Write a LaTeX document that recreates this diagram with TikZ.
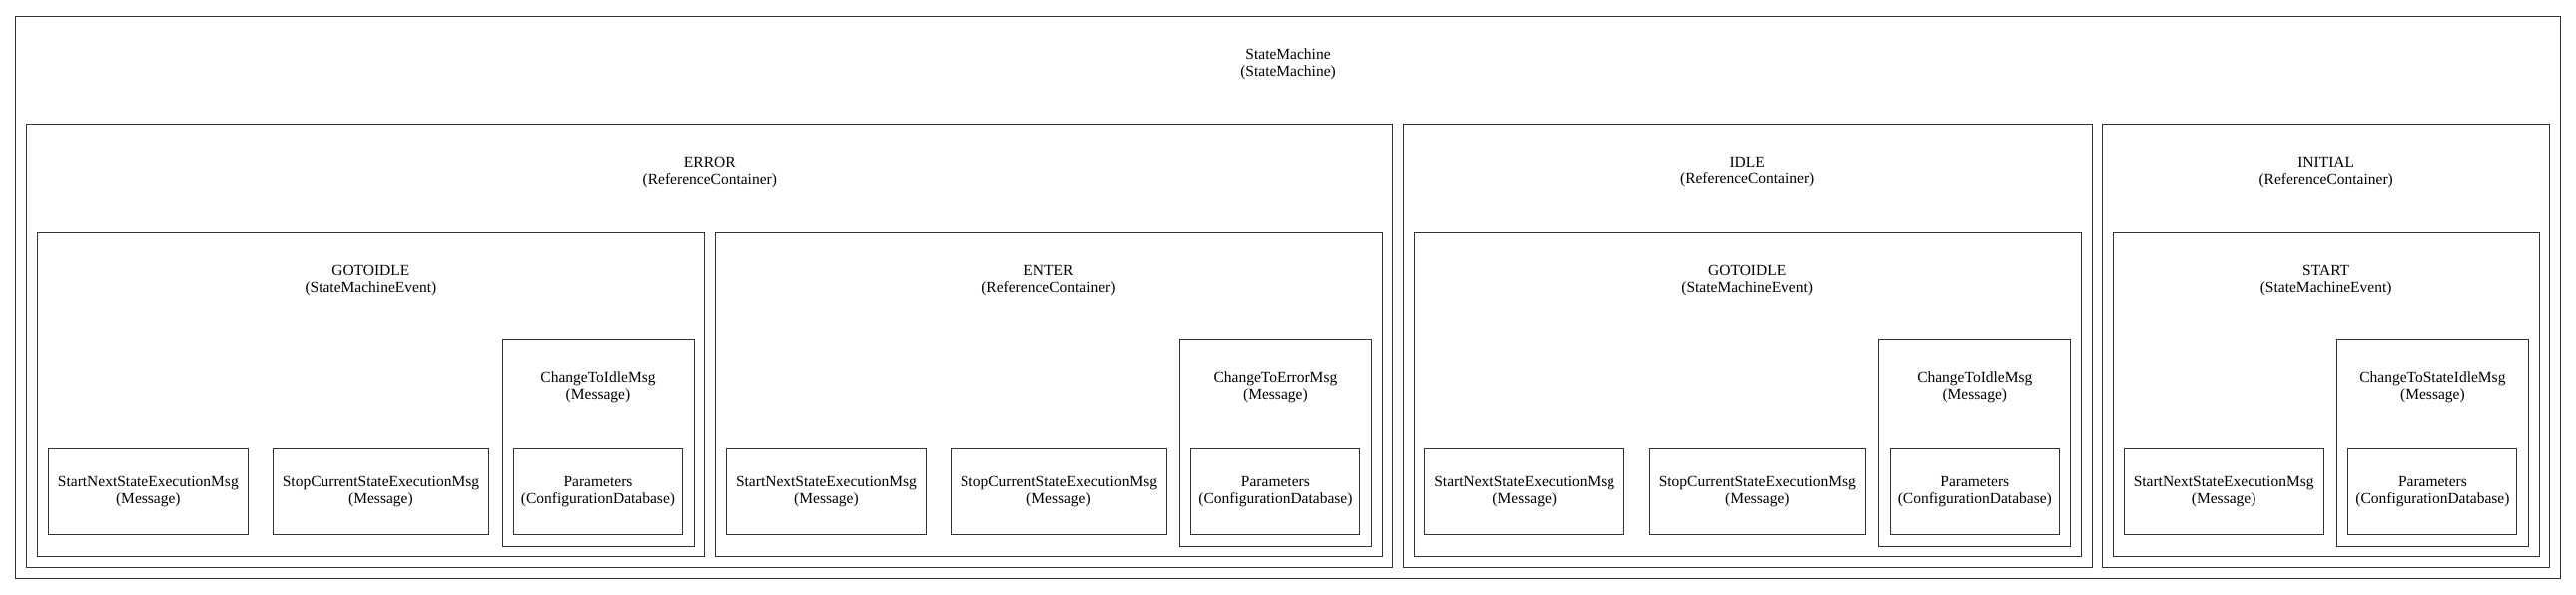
\documentclass[tikz,border=0pt]{standalone}
\usepackage{fontspec}
\setmainfont{Liberation Serif}
\usetikzlibrary{positioning}

\begin{document}
\begin{tikzpicture}[x=1pt, y=-1pt,
    box/.style={draw=black!80, line width=1pt, rectangle, anchor=north west, inner sep=0pt},
    leaf/.style={box, align=center, minimum height=86.4pt, font=\fontsize{15.5}{16.7}\selectfont},
    lbl/.style={align=center, inner sep=0pt, font=\fontsize{15.5}{16.7}\selectfont}]
            \useasboundingbox (0,0) rectangle (2580,595);

            % Draw clusters
            \node[box, minimum width=2548.3pt, minimum height=563pt] (sm) at (15.4,16) {};
            \node[lbl] (smlbl) at ([yshift=-48.5pt]sm.north) {StateMachine\\(StateMachine)};

            \node[box, minimum width=1368pt, minimum height=444.3pt] (error) at (26.3,123.7) {};
            \node[lbl] (errorlbl) at ([yshift=-48.5pt]error.north) {ERROR\\(ReferenceContainer)};
            \node[box, minimum width=690pt, minimum height=444.3pt] (idle) at (1404.7,123.7) {};
            \node[lbl] (idlelbl) at ([yshift=-48.5pt]idle.north) {IDLE\\(ReferenceContainer)};
            \node[box, minimum width=448.1pt, minimum height=444.3pt] (initial) at (2105.1,123.7) {};
            \node[lbl] (initiallbl) at ([yshift=-48.5pt]initial.north) {INITIAL\\(ReferenceContainer)};

            \node[box, minimum width=668.1pt, minimum height=325.1pt] (errgoto) at (36.8,231.9) {};
            \node[lbl] (errgotolbl) at ([yshift=-48.5pt]errgoto.north) {GOTOIDLE\\(StateMachineEvent)};
            \node[box, minimum width=668pt, minimum height=325.1pt] (errenter) at (715.9,231.9) {};
            \node[lbl] (errenterlbl) at ([yshift=-48.5pt]errenter.north) {ENTER\\(ReferenceContainer)};
            \node[box, minimum width=668pt, minimum height=325.1pt] (idlegoto) at (1415.7,231.9) {};
            \node[lbl] (idlegotolbl) at ([yshift=-48.5pt]idlegoto.north) {GOTOIDLE\\(StateMachineEvent)};
            \node[box, minimum width=427.3pt, minimum height=325.1pt] (initstart) at (2115.5,231.9) {};
            \node[lbl] (initstartlbl) at ([yshift=-48.5pt]initstart.north) {START\\(StateMachineEvent)};

            \node[box, minimum width=192pt, minimum height=206.8pt] (errgotochg) at (502.5,339.7) {};
            \node[lbl] (errgotochglbl) at ([yshift=-48.5pt]errgotochg.north) {ChangeToIdleMsg\\(Message)};
            \node[box, minimum width=192pt, minimum height=206.8pt] (errenterchg) at (1180.9,339.7) {};
            \node[lbl] (errenterchglbl) at ([yshift=-48.5pt]errenterchg.north) {ChangeToErrorMsg\\(Message)};
            \node[box, minimum width=192pt, minimum height=206.8pt] (idlegotochg) at (1881.3,339.7) {};
            \node[lbl] (idlegotochglbl) at ([yshift=-48.5pt]idlegotochg.north) {ChangeToIdleMsg\\(Message)};
            \node[box, minimum width=192pt, minimum height=206.8pt] (initstartchg) at (2339.9,339.7) {};
            \node[lbl] (initstartchglbl) at ([yshift=-48.5pt]initstartchg.north) {ChangeToStateIdleMsg\\(Message)};

            % Draw leaves
            \node[leaf, minimum width=200.3pt] (errgotonext) at (47.7,448.6) {StartNextStateExecutionMsg\\(Message)};
            \node[leaf, minimum width=216.7pt] (errgotostop) at (272.6,448.6) {StopCurrentStateExecutionMsg\\(Message)};
            \node[leaf, minimum width=169pt] (errgotoparam) at (514,448.6) {Parameters\\(ConfigurationDatabase)};

            \node[leaf, minimum width=200.3pt] (errenternext) at (726.8,448.6) {StartNextStateExecutionMsg\\(Message)};
            \node[leaf, minimum width=216.7pt] (errenterstop) at (951.6,448.6) {StopCurrentStateExecutionMsg\\(Message)};
            \node[leaf, minimum width=169pt] (errenterparam) at (1192.4,448.6) {Parameters\\(ConfigurationDatabase)};

            \node[leaf, minimum width=200.3pt] (idlegotonext) at (1426.1,448.6) {StartNextStateExecutionMsg\\(Message)};
            \node[leaf, minimum width=216.7pt] (idlegotostop) at (1651.5,448.6) {StopCurrentStateExecutionMsg\\(Message)};
            \node[leaf, minimum width=169pt] (idlegotoparam) at (1892.8,448.6) {Parameters\\(ConfigurationDatabase)};

            \node[leaf, minimum width=200.3pt] (initstartnext) at (2126.5,448.6) {StartNextStateExecutionMsg\\(Message)};
            \node[leaf, minimum width=169pt] (initstartparam) at (2351.4,448.6) {Parameters\\(ConfigurationDatabase)};
        \end{tikzpicture}
\end{document}
